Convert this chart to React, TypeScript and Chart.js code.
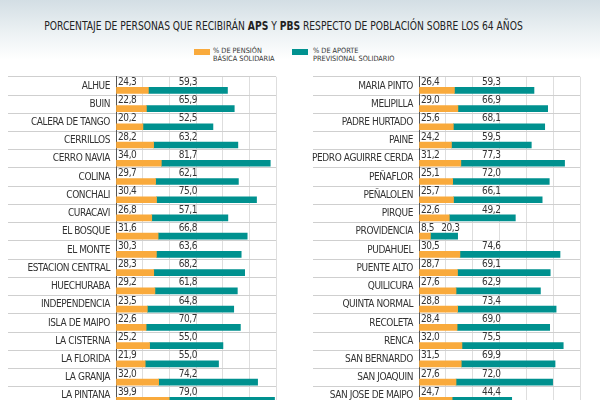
import React, { useEffect, useRef } from "react";
import { Chart, registerables } from "chart.js";

Chart.register(...registerables);

// Comunas shown in the left column
const leftComunas = [
  "ALHUE", "BUIN", "CALERA DE TANGO", "CERRILLOS", "CERRO NAVIA", "COLINA",
  "CONCHALI", "CURACAVI", "EL BOSQUE", "EL MONTE", "ESTACION CENTRAL", "HUECHURABA",
  "INDEPENDENCIA", "ISLA DE MAIPO", "LA CISTERNA", "LA FLORIDA", "LA GRANJA", "LA PINTANA",
];
// % de Pensión Básica Solidaria (PBS)
const leftPbs = [24.3, 22.8, 20.2, 28.2, 34.0, 29.7, 30.4, 26.8, 31.6, 30.3, 28.3, 29.2, 23.5, 22.6, 25.2, 21.9, 32.0, 39.9];
// % de Aporte Previsional Solidario (APS)
const leftAps = [59.3, 65.9, 52.5, 63.2, 81.7, 62.1, 75.0, 57.1, 66.8, 63.6, 68.2, 61.8, 64.8, 70.7, 55.0, 55.0, 74.2, 79.0];

// Comunas shown in the right column
const rightComunas = [
  "MARIA PINTO", "MELIPILLA", "PADRE HURTADO", "PAINE", "PEDRO AGUIRRE CERDA", "PEÑAFLOR",
  "PEÑALOLEN", "PIRQUE", "PROVIDENCIA", "PUDAHUEL", "PUENTE ALTO", "QUILICURA",
  "QUINTA NORMAL", "RECOLETA", "RENCA", "SAN BERNARDO", "SAN JOAQUIN", "SAN JOSE DE MAIPO",
];
const rightPbs = [26.4, 29.0, 25.6, 24.2, 31.2, 25.1, 25.7, 22.6, 8.5, 30.5, 28.7, 27.6, 28.8, 28.4, 32.0, 31.5, 27.6, 24.7];
const rightAps = [59.3, 66.9, 68.1, 59.5, 77.3, 72.0, 66.1, 49.2, 20.3, 74.6, 69.1, 62.9, 73.4, 69.0, 75.5, 69.9, 72.0, 44.4];

const axisMax = 120;
const axisStep = 20;
// APS value labels start at this value on the x scale
const apsLabelAt = 47;

const ORANGE = "#f9aa3c";
const TEAL = "#00918f";
const NARROW = "'DejaVu Sans Condensed', 'Liberation Sans Narrow', 'Roboto', sans-serif";

const fmt = (v: number) => v.toFixed(1).replace(".", ",");

// Tighter tracking for all canvas text of a panel
const tightText = {
  id: "tightText",
  beforeDraw(chart: any) {
    chart.ctx.letterSpacing = "-0.4px";
  },
};

// Moves the bars into the lower half of each row
const barShift = {
  id: "barShift",
  beforeDatasetsDraw(chart: any) {
    chart.ctx.save();
    chart.ctx.translate(0, 4.4);
  },
  afterDatasetsDraw(chart: any) {
    chart.ctx.restore();
  },
};

// Value labels above each pair of bars
const valueLabels = {
  id: "valueLabels",
  afterDatasetsDraw(chart: any) {
    const { ctx, chartArea } = chart;
    const xs = chart.scales.x;
    const ys = chart.scales.y;
    const pbs = chart.data.datasets[0].data as number[];
    const aps = chart.data.datasets[1].data as number[];
    ctx.save();
    ctx.font = `10px ${NARROW}`;
    ctx.fillStyle = "#333";
    ctx.textBaseline = "middle";
    ctx.textAlign = "left";
    pbs.forEach((p, i) => {
      const yc = ys.getPixelForValue(i) - 3.6;
      ctx.fillText(fmt(p), chartArea.left + 2, yc);
      const txt = fmt(aps[i]);
      const w = ctx.measureText(txt).width;
      const end = xs.getPixelForValue(p + aps[i]);
      let lx = xs.getPixelForValue(apsLabelAt);
      if (lx + w > end) lx = end + 2 - w;
      ctx.fillText(txt, lx, yc);
    });
    ctx.restore();
  },
};

type PanelProps = {
  labels: string[];
  pbs: number[];
  aps: number[];
  left: number;
  width: number;
  axisWidth: number;
  tickLen: number;
  padRight: number;
};

const PANEL_TOP = 70;
const PANEL_HEIGHT = 335;

function Panel({ labels, pbs, aps, left, width, axisWidth, tickLen, padRight }: PanelProps) {
  const ref = useRef<HTMLCanvasElement | null>(null);
  useEffect(() => {
    if (!ref.current) return;
    const chart = new Chart(ref.current, {
      type: "bar",
      data: {
        labels,
        datasets: [
          { label: "% DE PENSIÓN BÁSICA SOLIDARIA", data: pbs, backgroundColor: ORANGE, barThickness: 6, borderWidth: 0 },
          { label: "% DE APORTE PREVISIONAL SOLIDARIO", data: aps, backgroundColor: TEAL, barThickness: 6, borderWidth: 0 },
        ],
      },
      options: {
        indexAxis: "y",
        animation: false,
        responsive: false,
        maintainAspectRatio: false,
        layout: { padding: { top: 6.8, bottom: 0, left: 0, right: padRight } },
        plugins: { legend: { display: false }, tooltip: { enabled: false } },
        scales: {
          x: {
            stacked: true,
            min: 0,
            max: axisMax,
            ticks: { display: false, stepSize: axisStep },
            grid: { color: "#dedede", drawTicks: false, lineWidth: 1 },
            border: { display: false },
          },
          y: {
            stacked: true,
            grid: { color: "#cfcfcf", offset: true, tickLength: tickLen, drawTicks: true },
            border: { display: true, color: "#555", width: 1 },
            ticks: {
              padding: -(tickLen - 6),
              color: "#333",
              font: { family: NARROW, size: 10 },
            },
            afterFit: (s: any) => {
              s.width = axisWidth;
            },
          },
        },
      },
      plugins: [tightText, barShift, valueLabels],
    });
    return () => chart.destroy();
  }, []);
  return (
    <canvas
      ref={ref}
      width={width}
      height={PANEL_HEIGHT}
      style={{ position: "absolute", left, top: PANEL_TOP, width, height: PANEL_HEIGHT }}
    />
  );
}

export default function App() {
  return (
    <div
      style={{
        position: "fixed",
        left: 0,
        top: 0,
        width: 600,
        height: 400,
        overflow: "hidden",
        background: "#fff",
        fontFamily: NARROW,
        color: "#222",
      }}
    >
      <div
        style={{
          position: "absolute",
          left: 0,
          top: 0,
          width: 600,
          height: 62,
          background: "linear-gradient(to bottom, #d3dee4 0%, #eef3f5 35px, #ffffff 60px)",
        }}
      />
      <div
        style={{
          position: "absolute",
          left: 0,
          top: 18,
          width: 567,
          textAlign: "center",
          fontSize: 12,
          lineHeight: "16px",
          whiteSpace: "nowrap",
          transform: "scaleX(0.85)",
          transformOrigin: "283.5px 0",
        }}
      >
        PORCENTAJE DE PERSONAS QUE RECIBIRÁN <b>APS</b> Y <b>PBS</b> RESPECTO DE POBLACIÓN SOBRE LOS 64 AÑOS
      </div>
      <div style={{ position: "absolute", left: 194, top: 49, width: 16, height: 6, background: ORANGE }} />
      <div style={{ position: "absolute", left: 213, top: 47, fontSize: 7.3, lineHeight: "8px", color: "#333" }}>
        % DE PENSIÓN
        <br />
        BÁSICA SOLIDARIA
      </div>
      <div style={{ position: "absolute", left: 292, top: 49, width: 16, height: 6, background: TEAL }} />
      <div style={{ position: "absolute", left: 313, top: 47, fontSize: 7.3, lineHeight: "8px", color: "#333" }}>
        % DE APORTE
        <br />
        PREVISIONAL SOLIDARIO
      </div>
      <Panel labels={leftComunas} pbs={leftPbs} aps={leftAps} left={0} width={290} axisWidth={116} tickLen={108} padRight={14} />
      <Panel labels={rightComunas} pbs={rightPbs} aps={rightAps} left={300} width={290} axisWidth={119} tickLen={106} padRight={10} />
    </div>
  );
}
